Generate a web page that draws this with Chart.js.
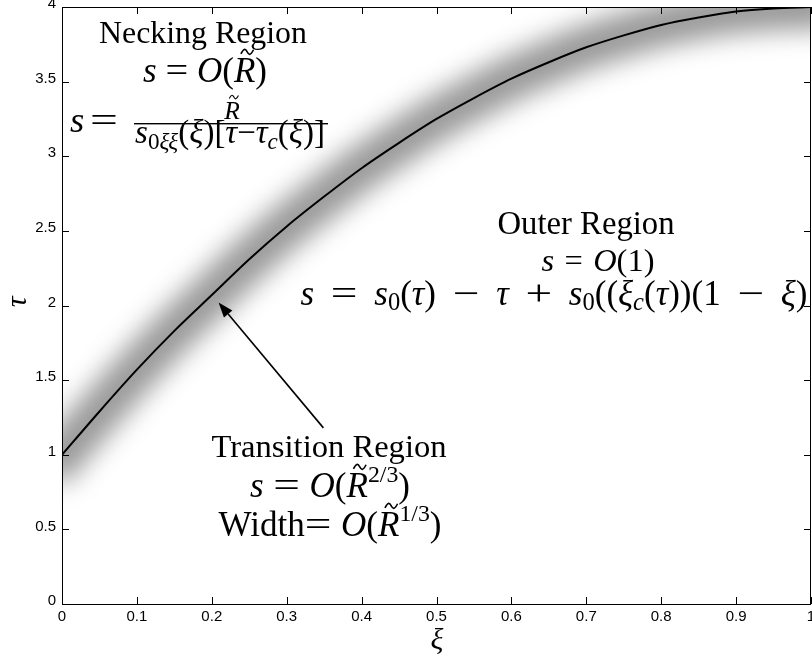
<!DOCTYPE html>
<html>
<head>
<meta charset="utf-8">
<script src="https://cdn.jsdelivr.net/npm/chart.js@4.4.1/dist/chart.umd.min.js"></script>
<style>
html,body{margin:0;padding:0;background:#fff;}
#c{display:block;}
</style>
</head>
<body>
<canvas id="c" width="812" height="659"></canvas>
<script>
// ---- data ----
const xi  = [0, 0.05, 0.1, 0.15, 0.2, 0.25, 0.3, 0.35, 0.4, 0.45, 0.5, 0.55, 0.6, 0.65, 0.7, 0.75, 0.8, 0.85, 0.9, 0.95, 1.0];
const tau = [1.00, 1.29, 1.57, 1.83, 2.07, 2.31, 2.53, 2.73, 2.92, 3.09, 3.25, 3.39, 3.52, 3.63, 3.73, 3.81, 3.88, 3.93, 3.97, 3.99, 4.00];
const xTicks = [0, 0.1, 0.2, 0.3, 0.4, 0.5, 0.6, 0.7, 0.8, 0.9, 1];
const xTickLabels = ['0', '0.1', '0.2', '0.3', '0.4', '0.5', '0.6', '0.7', '0.8', '0.9', '1'];
const yTicks = [0, 0.5, 1, 1.5, 2, 2.5, 3, 3.5, 4];
const yTickLabels = ['0', '0.5', '1', '1.5', '2', '2.5', '3', '3.5', '4'];
const arrowTail = {x: 0.349, y: 1.18};
const arrowHead = {x: 0.209, y: 2.02};

const pts = xi.map((v, i) => ({x: v, y: tau[i]}));

const datasets = [
  // blurred grey band along the curve
  {data: pts, borderColor: 'rgba(0,0,0,0.4)', borderWidth: 44, pointRadius: 0, tension: 0.3, clip: 0,
   borderCapStyle: 'square', borderJoinStyle: 'round', band: true},
  // the curve itself
  {data: pts, borderColor: '#000', borderWidth: 2, pointRadius: 0, tension: 0.3, clip: 0}
];

const SERIF = '"Liberation Serif", "DejaVu Serif", serif';

// rich text: segments {t, i:italic, sc:scale, dy:baseline shift (em), tl:tilde, g:stretchable gap, sx:horizontal stretch}
function drawRich(ctx, segs, x, y, size, align, target, stretchGaps) {
  const measure = (sz) => {
    let w = 0, ng = 0;
    const items = segs.map(s => {
      const fs = sz * (s.sc || 1);
      const font = (s.i ? 'italic ' : '') + fs + 'px ' + SERIF;
      ctx.font = font;
      const tw = s.g ? fs * 0.16 : ctx.measureText(s.t).width * (s.sx || 1);
      if (s.g) ng++;
      w += tw;
      return Object.assign({}, s, {font, fs, tw});
    });
    return {w, ng, items};
  };
  let m = measure(size);
  if (target && !stretchGaps) { size = size * target / m.w; m = measure(size); }
  if (target && stretchGaps && m.ng) {
    const extra = (target - m.w) / m.ng;
    m.items.forEach(it => { if (it.g) it.tw = Math.max(4, it.tw + extra); });
    m.w = m.items.reduce((a, it) => a + it.tw, 0);
  }
  let cx = align === 'left' ? x : x - m.w / 2;
  ctx.textAlign = 'left';
  ctx.textBaseline = 'alphabetic';
  ctx.fillStyle = '#000';
  for (const it of m.items) {
    if (it.g) { cx += it.tw; continue; }
    ctx.font = it.font;
    const yy = y + (it.dy || 0) * size;
    if (it.sx) {
      ctx.save(); ctx.translate(cx, yy); ctx.scale(it.sx, 1); ctx.fillText(it.t, 0, 0); ctx.restore();
    } else {
      ctx.fillText(it.t, cx, yy);
    }
    if (it.tl) {
      const tx = cx + it.tw * 0.62, ty = yy - it.fs * 0.86, tw = it.fs * 0.36, th = it.fs * 0.06;
      ctx.beginPath();
      ctx.moveTo(tx - tw / 2, ty + th);
      ctx.bezierCurveTo(tx - tw / 4, ty - 2 * th, tx - tw / 8, ty - 1.5 * th, tx, ty);
      ctx.bezierCurveTo(tx + tw / 8, ty + 1.5 * th, tx + tw / 4, ty + 2 * th, tx + tw / 2, ty - th);
      ctx.lineWidth = Math.max(1, it.fs * 0.045);
      ctx.strokeStyle = '#000';
      ctx.stroke();
    }
    cx += it.tw;
  }
  return {w: m.w, size};
}

const G = {t: ' ', g: 1};
const EQ = {t: '=', sx: 1.35};
const EQ2 = {t: '=', sx: 1.15};
const MI = {t: '−', sx: 1.35};
const PL = {t: '+', sx: 1.35};

const bandBlur = {
  id: 'bandBlur',
  beforeDatasetDraw(chart, args) {
    if (chart.data.datasets[args.index].band) { chart.ctx.save(); chart.ctx.filter = 'blur(13px)'; }
  },
  afterDatasetDraw(chart, args) {
    if (chart.data.datasets[args.index].band) { chart.ctx.filter = 'none'; chart.ctx.restore(); }
  }
};

const overlay = {
  id: 'overlay',
  afterDatasetsDraw(chart) {
    const ctx = chart.ctx, a = chart.chartArea;
    const xs = chart.scales.x, ys = chart.scales.y;
    ctx.save();
    // box
    ctx.strokeStyle = '#000';
    ctx.lineWidth = 1;
    ctx.strokeRect(Math.round(a.left) + 0.5, Math.round(a.top) + 0.5, Math.round(a.right - a.left) - 1, Math.round(a.bottom - a.top));
    // inward ticks
    const tl = 7;
    ctx.beginPath();
    xTicks.forEach(v => {
      const px = Math.round(xs.getPixelForValue(v)) + 0.5;
      ctx.moveTo(px, a.bottom); ctx.lineTo(px, a.bottom - tl);
      ctx.moveTo(px, a.top); ctx.lineTo(px, a.top + tl);
    });
    yTicks.forEach(v => {
      const py = Math.round(ys.getPixelForValue(v)) + 0.5;
      ctx.moveTo(a.left, py); ctx.lineTo(a.left + tl, py);
      ctx.moveTo(a.right, py); ctx.lineTo(a.right - tl, py);
    });
    ctx.stroke();

    // arrow
    const x1 = xs.getPixelForValue(arrowTail.x), y1 = ys.getPixelForValue(arrowTail.y);
    const x2 = xs.getPixelForValue(arrowHead.x), y2 = ys.getPixelForValue(arrowHead.y);
    const ang = Math.atan2(y2 - y1, x2 - x1);
    const hl = 15, hw = 5.5;
    const bx = x2 - hl * Math.cos(ang), by = y2 - hl * Math.sin(ang);
    ctx.beginPath();
    ctx.moveTo(x1, y1); ctx.lineTo(bx, by);
    ctx.lineWidth = 1.6; ctx.stroke();
    ctx.beginPath();
    ctx.moveTo(x2, y2);
    ctx.lineTo(bx + hw * Math.sin(ang), by - hw * Math.cos(ang));
    ctx.lineTo(bx - hw * Math.sin(ang), by + hw * Math.cos(ang));
    ctx.closePath();
    ctx.fillStyle = '#000'; ctx.fill();

    // Necking region
    const r1 = drawRich(ctx, [{t: 'Necking Region'}], 203, 43, 28, 'center', 208);
    const S = r1.size;
    const M = S * 1.1;
    drawRich(ctx, [{t: 's', i: 1}, G, EQ2, G, {t: 'O', i: 1}, {t: '('}, {t: 'R', i: 1, tl: 1}, {t: ')'}], 205, 82, M, 'center', 124, true);
    drawRich(ctx, [{t: 's', i: 1}, G, EQ], 70, 132, S * 1.15, 'left', 48, true);
    ctx.fillRect(134, 123, 194, 1.4);
    drawRich(ctx, [{t: 'R', i: 1, tl: 1}], 232, 119, S * 0.8, 'center');
    drawRich(ctx, [{t: 's', i: 1}, {t: '0', sc: 0.7, dy: 0.18}, {t: 'ξξ', i: 1, sc: 0.7, dy: 0.18}, {t: '('}, {t: 'ξ', i: 1}, {t: ')['}, {t: 'τ', i: 1}, {t: '−'}, {t: 'τ', i: 1}, {t: 'c', i: 1, sc: 0.7, dy: 0.18}, {t: '('}, {t: 'ξ', i: 1}, {t: ')]'}], 230, 143, 20, 'center', 190);

    // Outer region
    drawRich(ctx, [{t: 'Outer Region'}], 586, 234, S, 'center', 177);
    drawRich(ctx, [{t: 's', i: 1}, G, {t: '='}, G, {t: 'O', i: 1}, {t: '(1)'}], 598, 271, S * 1.02, 'center', 113, true);
    drawRich(ctx, [{t: 's', i: 1}, G, EQ, G, {t: 's', i: 1}, {t: '0', sc: 0.7, dy: 0.15}, {t: '('}, {t: 'τ', i: 1}, {t: ')'}, G, MI, G, {t: 'τ', i: 1}, G, PL, G,
      {t: 's', i: 1}, {t: '0', sc: 0.7, dy: 0.15}, {t: '(('}, {t: 'ξ', i: 1}, {t: 'c', i: 1, sc: 0.7, dy: 0.15}, {t: '('}, {t: 'τ', i: 1}, {t: '))(1'}, G, MI, G, {t: 'ξ', i: 1}, {t: ')'}],
      554, 305, M, 'center', 507, true);

    // Transition region
    drawRich(ctx, [{t: 'Transition Region'}], 329, 457, S, 'center', 235);
    drawRich(ctx, [{t: 's', i: 1}, G, EQ, G, {t: 'O', i: 1}, {t: '('}, {t: 'R', i: 1, tl: 1}, {t: '2/3', sc: 0.68, dy: -0.42}, {t: ')'}], 330, 497, M, 'center', 160, true);
    drawRich(ctx, [{t: 'Width'}, EQ, G, {t: 'O', i: 1}, {t: '('}, {t: 'R', i: 1, tl: 1}, {t: '1/3', sc: 0.68, dy: -0.42}, {t: ')'}], 330, 536, M, 'center', 223, true);

    // axis titles
    ctx.fillStyle = '#000';
    ctx.font = 'italic 30px ' + SERIF;
    ctx.textAlign = 'center';
    ctx.textBaseline = 'middle';
    ctx.fillText('ξ', 437, 641);
    ctx.save();
    ctx.translate(18, 302);
    ctx.rotate(-Math.PI / 2);
    ctx.fillText('τ', 0, 0);
    ctx.restore();
    ctx.restore();
  }
};

new Chart(document.getElementById('c'), {
  type: 'line',
  data: {datasets},
  plugins: [bandBlur, overlay],
  options: {
    responsive: false,
    animation: false,
    events: [],
    layout: {padding: {top: 7, right: 1, left: 0, bottom: 0}},
    plugins: {legend: {display: false}, tooltip: {enabled: false}},
    scales: {
      x: {
        type: 'linear', min: 0, max: 1,
        afterBuildTicks: s => { s.ticks = xTicks.map(v => ({value: v})); },
        afterFit: s => { s.height = 55; s.paddingLeft = 0; s.paddingRight = 0; },
        grid: {display: false, drawTicks: false},
        border: {display: false},
        ticks: {
          autoSkip: false, maxRotation: 0, padding: 4, color: '#000',
          font: {family: '"Liberation Sans", Arial, sans-serif', size: 15},
          callback: (v, i) => xTickLabels[i]
        }
      },
      y: {
        type: 'linear', min: 0, max: 4,
        afterBuildTicks: s => { s.ticks = yTicks.map(v => ({value: v})); },
        afterFit: s => { s.width = 62; s.paddingTop = 0; s.paddingBottom = 0; },
        grid: {display: false, drawTicks: false},
        border: {display: false},
        ticks: {
          autoSkip: false, padding: 6, color: '#000', labelOffset: -3,
          font: {family: '"Liberation Sans", Arial, sans-serif', size: 15},
          callback: (v, i) => yTickLabels[i]
        }
      }
    }
  }
});
</script>
</body>
</html>
